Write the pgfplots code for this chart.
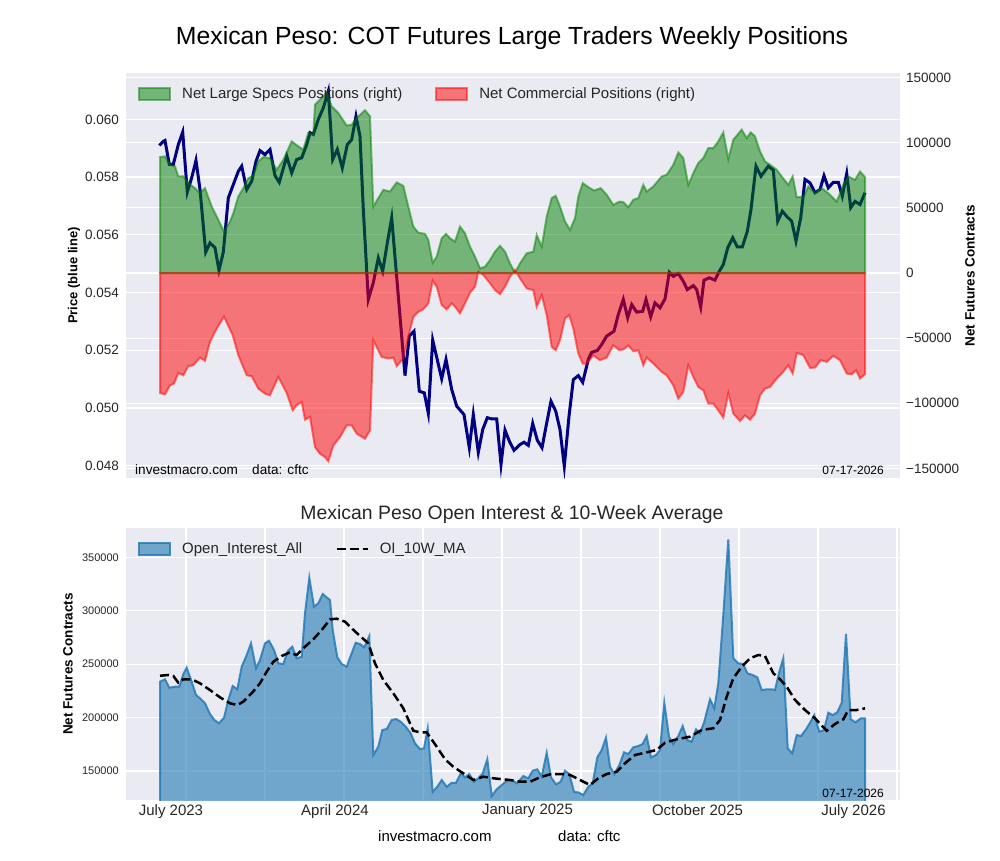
\documentclass[border=0pt]{standalone}
\usepackage{fontspec}
\setmainfont{Liberation Sans}
\usepackage{pgfplots}
\pgfplotsset{compat=1.18}
\definecolor{bgc}{RGB}{234,234,242}
\definecolor{txt}{RGB}{38,38,38}
\definecolor{mgreen}{RGB}{0,128,0}
\definecolor{mred}{RGB}{255,0,0}
\definecolor{oiblue}{RGB}{31,119,180}
\definecolor{navyc}{RGB}{0,0,128}
\newcommand{\fs}[1]{\fontsize{#1}{#1}\selectfont}
\pgfplotsset{
  base/.style={
    scale only axis, anchor=south west, width=774pt,
    xmin=126, xmax=900,
    axis line style={draw=none},
    major tick length=0pt, minor tick length=0pt,
    tick label style={color=txt},
    /pgf/number format/assume math mode=true,
    scaled y ticks=false,
    grid style={white, line width=1.3pt},
    minor grid style={white, line width=1.3pt},
  },
  patchleg/.style={legend image code/.code={\draw[##1] (0pt,-6pt) rectangle (31pt,6pt);}},
  lineleg/.style={legend image code/.code={\draw[##1] (0pt,0pt) -- (31pt,0pt);}},
}
\begin{document}
\begin{tikzpicture}[x=1pt,y=1pt]
\path (0,0) rectangle (1000,-860);

% ---------- top: background, right ticks, grid ----------
\begin{axis}[base, at={(126pt,-478pt)}, height=405pt,
  ymin=-157300, ymax=153460,
  axis background/.style={fill=bgc},
  xtick=\empty,
  minor xtick={186,265,344,423,502,581,660,739,818,897}, xminorgrids=true,
  ytick={-150000,-100000,-50000,0,50000,100000,150000},
  yticklabels={−150000,−100000,−50000,0,50000,100000,150000},
  ymajorgrids=true,
  yticklabel pos=right,
  yticklabel style={font=\fs{13.5}, anchor=west, inner sep=0pt, xshift=6pt},
  every axis y label/.style={at={(axis description cs:1.0904,0.5)}, rotate=90, anchor=center, font={\fs{13.5}\bfseries}},
  ylabel={Net Futures Contracts},
]
\addplot[draw=none] coordinates {(160,0)};
\end{axis}

% ---------- top: price line (left axis) ----------
\begin{axis}[base, at={(126pt,-478pt)}, height=405pt,
  ymin=0.04757, ymax=0.06161,
  xtick=\empty,
  ytick={0.048,0.050,0.052,0.054,0.056,0.058,0.060},
  ymajorgrids=true,
  yticklabel style={font=\fs{13.5}, anchor=east, inner sep=0pt, xshift=-7pt,
    /pgf/number format/fixed, /pgf/number format/fixed zerofill, /pgf/number format/precision=3},
  every axis y label/.style={at={(axis description cs:-0.0672,0.5)}, rotate=90, anchor=center, font={\fs{13}\bfseries}},
  ylabel={Price (blue line)},
]
\addplot[navyc, line width=3pt] coordinates {
(159.3,0.05910) (163.3,0.05924) (165,0.05927) (169.3,0.05844) (173.3,0.05844) (178.3,0.05913) (182.7,0.05956) (187.3,0.05748) (191.7,0.05798) (196,0.05858) (200,0.05757) (205.7,0.05540) (210,0.05572) (215,0.05555) (219,0.05477) (223.3,0.05540) (228.3,0.05728) (233.3,0.05774) (238.3,0.05820) (241.7,0.05838) (246.7,0.05757) (251.7,0.05786) (256,0.05855) (260,0.05892) (265,0.05878) (270,0.05896) (275,0.05805) (279.3,0.05782) (286.7,0.05872) (291.7,0.05815) (296.7,0.05861) (301.7,0.05867) (306.7,0.05913) (310,0.05954) (313.3,0.05948) (318.3,0.06000) (323.3,0.06040) (328.3,0.06098) (332.7,0.05861) (337.3,0.05896) (342.3,0.05832) (347.3,0.05913) (351.7,0.05930) (356,0.06011) (360,0.05942) (363.3,0.05688) (368.3,0.05376) (373.3,0.05434) (378.3,0.05520) (382.7,0.05474) (387.3,0.05572) (391.7,0.05659) (405,0.05112) (409.3,0.05249) (414,0.05266) (419.3,0.05058) (424.3,0.05052) (428.3,0.04981) (432.7,0.05235) (441.7,0.05101) (446,0.05168) (451.7,0.05064) (456.7,0.05006) (464,0.04977) (469.3,0.04862) (473.3,0.04977) (478.3,0.04846) (482.7,0.04925) (487.3,0.04966) (491.7,0.04962) (496.7,0.04962) (501,0.04804) (505,0.04923) (509.3,0.04885) (514,0.04853) (520,0.04873) (524,0.04881) (528.3,0.04870) (532.7,0.04946) (537.3,0.04888) (542,0.04862) (546.7,0.04948) (551,0.05023) (555.7,0.04989) (560,0.04925) (564.3,0.04798) (569,0.04971) (573.3,0.05098) (578.3,0.05112) (582.7,0.05089) (588.3,0.05168) (591.7,0.05193) (597.3,0.05199) (601.7,0.05220) (606.7,0.05249) (614,0.05266) (618.3,0.05324) (623.3,0.05376) (627.7,0.05312) (631.7,0.05358) (636.7,0.05332) (642.7,0.05335) (646,0.05376) (650.7,0.05316) (655,0.05364) (660,0.05347) (665,0.05378) (669.3,0.05470) (673.3,0.05456) (678.3,0.05466) (683.3,0.05439) (687.3,0.05410) (693.3,0.05424) (696.7,0.05410) (700.7,0.05350) (704,0.05443) (709.3,0.05451) (715,0.05443) (719.3,0.05474) (723.3,0.05497) (727.7,0.05555) (732.7,0.05590) (737.3,0.05558) (742.3,0.05558) (747.3,0.05612) (751,0.05688) (756,0.05838) (761,0.05803) (768.3,0.05838) (773.3,0.05824) (777.7,0.05647) (782.3,0.05682) (786.7,0.05664) (791.7,0.05647) (796,0.05578) (800.7,0.05659) (805,0.05792) (810,0.05780) (815,0.05746) (820,0.05757) (824,0.05805) (828.3,0.05763) (833.3,0.05782) (838.3,0.05782) (842.3,0.05734) (846.7,0.05812) (850.7,0.05694) (855,0.05716) (860,0.05705) (865,0.05746)
};
\end{axis}

% ---------- top: positions (right axis) ----------
\begin{axis}[base, at={(126pt,-478pt)}, height=405pt,
  ymin=-157300, ymax=153460,
  xtick=\empty, ytick=\empty,
  legend style={draw=none, fill=none, font=\fs{15}, text=txt, inner sep=0pt,
    at={(rel axis cs:0.0155,0.948)}, anchor=west, legend columns=2,
    /tikz/every odd column/.append style={column sep=9pt},
    /tikz/every even column/.append style={column sep=31pt}},
  legend cell align=left,
]
\addplot[draw=mgreen, fill=mgreen, opacity=0.5, line width=2pt, patchleg] coordinates {
(160,0) (160,89000) (165,89500) (170,83000) (175,81800) (178.3,74100) (183.3,74100) (188.3,69000) (195,65100) (200,61300) (205,65100) (211.7,51000) (218.3,40800) (224,31800) (230,39500) (233.3,45900) (238.3,58700) (243.3,65100) (248.3,72800) (253.3,74600) (258.3,85600) (263.3,89000) (270,88200) (276.7,79200) (283.3,86900) (291.7,101000) (298.3,97200) (303.3,94600) (308.3,107500) (313.3,106200) (315,129200) (320,133100) (326.7,138200) (331.7,127900) (338.3,122800) (346.7,113100) (351.7,113800) (356.7,119000) (365,124900) (370,120200) (373.3,51000) (378.3,57500) (383.3,63800) (390,62500) (396.7,69500) (403.3,66900) (408.3,51000) (413.3,35600) (418.3,31000) (425,30000) (428.3,25400) (432.7,7900) (436.7,12500) (441.7,26700) (446,30000) (450,26700) (455,24100) (460,35600) (465,30500) (470,20200) (475,12500) (480,3600) (485,4800) (490,10000) (495,16400) (500,20800) (505,16400) (510,7400) (515,0) (520,7400) (526.7,15100) (533.3,16400) (536.7,29200) (541.7,20200) (546.7,43300) (551.7,57500) (555.7,59200) (560,51000) (565,39500) (570,33100) (575,42100) (578.3,58700) (582.7,69000) (588.3,65900) (594,63300) (600.7,65100) (606.7,60000) (613.3,52300) (619.3,54800) (623.3,54400) (628.3,50500) (633.3,56200) (638.3,57500) (643.3,67700) (646.7,62500) (653.3,66400) (661.7,74100) (666.7,75400) (673.3,83100) (678.3,92500) (683.3,88200) (688.3,67700) (693.3,76700) (698.3,84400) (703.3,88200) (708.3,95900) (713.3,95900) (718.3,101000) (723.3,107900) (728.3,87500) (733.3,102300) (741.7,110000) (746.7,103600) (750.7,107900) (755,104900) (760,93300) (765,85600) (770,83100) (776.7,79200) (781.7,74100) (788.3,67700) (792.7,74100) (796.7,58200) (803.3,58200) (808.3,66400) (815,61300) (821.7,65100) (828.3,61300) (836.7,54800) (843.3,67700) (848.3,74100) (855,71500) (860,77900) (865,73600) (865,0)
} -- cycle;
\addlegendentry{Net Large Specs Positions (right)}
\addplot[draw=mred, fill=mred, opacity=0.5, line width=2pt, patchleg] coordinates {
(160,0) (160,-92100) (165,-93100) (170,-86200) (174,-84800) (178.3,-76700) (183.3,-78500) (188.3,-71500) (193.3,-70800) (200,-64900) (205,-67400) (210,-52800) (216.7,-42600) (224,-33600) (232.7,-47700) (238.3,-63100) (246.7,-78500) (251.7,-79200) (258.3,-88700) (265,-92600) (270,-93800) (278.3,-79700) (286.7,-92100) (292.7,-105400) (296.7,-101500) (301.7,-99000) (305,-112600) (310,-110500) (315,-133600) (320,-138700) (325,-141300) (328.3,-144400) (333.3,-132300) (340,-125900) (346.7,-116900) (351.7,-116900) (356.7,-123300) (365,-127200) (370,-120800) (373.3,-51500) (381.7,-64400) (388.3,-65600) (393.3,-64900) (396.7,-71500) (403.3,-65600) (408.3,-49000) (413.3,-33600) (418.3,-29800) (423.3,-27900) (428.3,-23300) (432.7,-5900) (436.7,-10500) (441.7,-24600) (446.7,-27900) (451.7,-23300) (455,-25900) (460,-31000) (465,-23300) (470,-15100) (475,-10500) (478.3,1000) (483.3,-1500) (490,-7900) (495,-13100) (500,-16200) (505,-10500) (510,-2800) (515,2300) (520,-4100) (526.7,-11800) (533.3,-13100) (536.7,-25900) (541.7,-16900) (546.7,-32300) (551.7,-56700) (555.7,-59200) (560,-51500) (565,-34800) (569.3,-32300) (573.3,-42600) (578.3,-61800) (582.7,-69500) (586.7,-69500) (593.3,-63100) (600,-66900) (606.7,-64900) (613.3,-55400) (619.3,-59200) (623.3,-58700) (628.3,-55600) (633.3,-60000) (638.3,-59200) (643.3,-70800) (646.7,-64900) (653.3,-69500) (661.7,-75900) (666.7,-78500) (673.3,-86200) (678.3,-96400) (683.3,-91300) (688.3,-70800) (693.3,-79700) (698.3,-87500) (703.3,-90000) (708.3,-100200) (713.3,-100200) (718.3,-105400) (723.3,-111000) (728.3,-92100) (733.3,-107900) (740,-113600) (745,-109200) (750,-112600) (755,-107900) (760,-93800) (765,-88700) (770,-87500) (776.7,-81000) (781.7,-77200) (788.3,-70800) (792.7,-77200) (796.7,-61300) (803.3,-63100) (810,-72800) (815,-72600) (820.7,-66900) (826.7,-68200) (833.3,-63600) (840,-66900) (846.7,-77200) (851.7,-77700) (856,-74600) (860,-81000) (865,-77700) (865,0)
} -- cycle;
\addlegendentry{Net Commercial Positions (right)}
\end{axis}

% ---------- bottom: open interest ----------
\begin{axis}[base, at={(126pt,-800pt)}, height=272pt,
  ymin=122847, ymax=377521,
  axis background/.style={fill=bgc},
  xtick={171,335,527.5,697.5,853.5},
  xticklabels={July 2023,April 2024,January 2025,October 2025,July 2026},
  xticklabel style={font=\fs{15}, anchor=north, inner sep=0pt, yshift=-4pt},
  minor xtick={186,265,344,423,502,581,660,739,818,897}, xminorgrids=true, xmajorgrids=false,
  ytick={150000,200000,250000,300000,350000},
  yticklabels={150000,200000,250000,300000,350000},
  ymajorgrids=true,
  yticklabel style={font=\fs{11}, anchor=east, inner sep=0pt, xshift=-7pt},
  every axis y label/.style={at={(axis description cs:-0.0749,0.5)}, rotate=90, anchor=center, font={\fs{13.5}\bfseries}},
  ylabel={Net Futures Contracts},
  legend style={draw=none, fill=none, font=\fs{15}, text=txt, inner sep=0pt,
    at={(rel axis cs:0.0155,0.923)}, anchor=west, legend columns=2,
    /tikz/every odd column/.append style={column sep=9pt},
    /tikz/every even column/.append style={column sep=31pt}},
  legend cell align=left,
]
\addplot[fill=oiblue, fill opacity=0.6, draw=oiblue, draw opacity=0.8, line width=2pt, patchleg] coordinates {
(160,0) (160,233600) (165,235900) (169.3,228000) (175,228900) (179.3,228900) (183.3,240800) (186.7,246700) (191.7,233600) (196,221200) (200,218100) (205,213400) (210,203400) (214.3,197800) (219,194700) (224,199900) (228.3,216500) (232.7,229600) (237.3,226500) (241.7,247700) (246.7,258600) (251,269600) (256,246200) (260,253900) (265,269600) (269,272000) (274,263300) (278.3,250800) (283.3,250200) (287.7,262400) (292.3,266400) (296.7,255500) (301.7,257000) (305,297600) (309.3,331000) (314,303800) (318.3,307000) (322.7,315700) (326.7,312600) (330,310100) (332.7,282000) (337.3,256500) (341.7,250200) (346.7,247700) (351,258600) (355.7,270100) (360,268900) (364.3,265800) (369.3,276400) (373.3,165000) (378.3,172800) (382.3,188400) (386.7,189300) (391.7,197800) (396,198700) (400.7,196200) (405.7,191500) (410.7,185300) (415,175900) (420,170600) (424,171200) (427.7,190000) (432.7,130600) (437.3,135300) (441.7,141600) (446.7,135300) (451.7,139000) (456,139000) (460.7,147800) (465,144100) (469.3,147200) (474,140000) (478.3,143200) (482.7,147800) (487.3,161000) (491.7,126600) (496.7,132900) (501.7,136900) (506.7,140900) (511.7,141600) (517,138500) (523.3,145300) (528.3,143200) (532.7,150300) (537.3,151600) (541.7,144700) (546.7,167100) (551,144100) (556,137500) (560.7,140000) (565,150300) (569.3,147200) (574,130600) (579,129700) (583.3,127500) (588.3,135300) (592.7,138500) (597.3,162800) (601.7,169700) (606,181200) (610,154000) (614.3,147200) (619.3,155600) (624,167500) (628.3,165900) (633.3,172200) (638.3,173400) (642.7,175300) (646.7,182800) (651,162800) (656,165000) (660,169700) (664.3,213900) (669,182100) (673.3,175300) (678.3,182800) (682.7,192100) (687.3,179000) (691.7,177400) (696,189000) (700,185300) (704.3,196200) (710,217100) (714.3,208700) (718.3,232100) (723.3,296100) (728.3,366900) (733.3,255500) (738.3,250800) (743.3,250200) (747.3,241500) (752.7,239900) (757.3,237700) (761.7,225800) (766.7,226500) (771.7,226500) (775,225800) (779.3,243000) (783.3,255500) (787.7,171300) (792.3,166600) (796.7,183700) (801,182800) (806,189000) (810,195200) (814.3,202400) (819.3,186800) (824,188400) (828.3,204600) (832.7,202400) (837.3,205000) (841.7,213900) (846,278300) (850.7,198400) (855.7,195600) (860.7,199300) (865,199300) (865,0)
} -- cycle;
\addlegendentry{Open\_Interest\_All}
\addplot[black, line width=2.5pt, dash pattern=on 9pt off 4pt, lineleg] coordinates {
(160,239200) (168.3,239900) (173.3,239000) (178.3,232700) (183.3,235900) (191.7,235900) (200,232100) (210,225800) (220,219000) (230,213400) (237.3,211800) (243.3,214900) (251.7,222800) (260,232100) (266.7,243000) (273.3,252300) (281.7,257700) (289.3,260800) (296.7,258600) (305,266400) (313.3,273300) (321.7,282000) (330,292000) (336.7,292600) (345,289800) (351.7,283600) (360,276400) (368.3,269600) (375,250800) (383.3,235200) (393.3,222800) (403.3,208700) (413.3,187700) (420,186200) (426.7,186200) (436.7,172800) (445,161000) (453.3,154000) (463.3,147800) (473.3,141600) (483.3,144700) (493.3,143200) (503.3,142200) (510,141600) (520,140000) (530,140000) (540,144100) (550,146900) (561.7,147200) (570,146300) (580,141600) (590,136900) (598.3,143200) (606.7,147200) (616.7,149400) (625,157200) (635,165000) (645,167100) (656.7,169700) (665,176500) (676.7,179700) (690,182100) (701.7,188400) (713.3,190000) (720,197800) (726.7,219600) (733.3,236800) (741.7,247700) (750,255500) (758.3,258600) (765,257700) (773.3,241500) (780,235900) (786.7,228900) (795,216500) (805,207100) (815,199300) (826.7,187700) (835,194000) (843.3,198400) (848.3,207100) (856.7,207100) (865,208700)
};
\addlegendentry{OI\_10W\_MA}
\end{axis}

% ---------- texts ----------
\node[font=\fs{24.8}, inner sep=0pt] at (512,-38) {Mexican Peso: COT Futures Large Traders Weekly Positions};
\node[font=\fs{19.4}, inner sep=0pt, text=txt] at (512,-514) {Mexican Peso Open Interest \& 10-Week Average};
\node[font=\fs{13.6}, inner sep=0pt, anchor=west] at (135,-470) {investmacro.com};
\node[font=\fs{13.6}, inner sep=0pt, anchor=west] at (252,-470) {data: cftc};
\node[font=\fs{12}, inner sep=0pt, anchor=east] at (884,-470) {07-17-2026};
\node[font=\fs{12}, inner sep=0pt, anchor=east] at (884,-793) {07-17-2026};
\node[font=\fs{15}, inner sep=0pt, anchor=west] at (378,-836) {investmacro.com};
\node[font=\fs{15}, inner sep=0pt, anchor=west] at (558,-836) {data: cftc};
\end{tikzpicture}
\end{document}
